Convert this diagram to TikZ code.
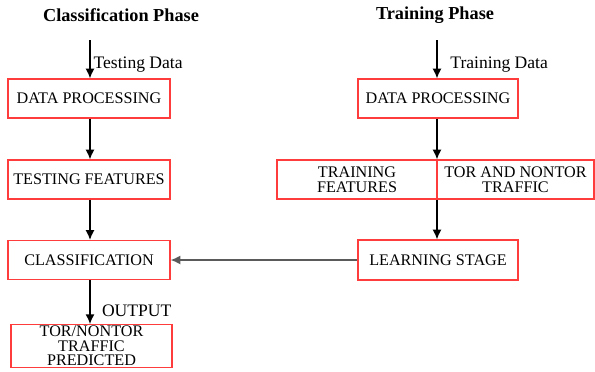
\documentclass[tikz,border=0pt]{standalone}
\usepackage{fontspec}
\setmainfont{Liberation Serif}
\usetikzlibrary{arrows.meta}
\usetikzlibrary{positioning}
\usetikzlibrary{calc}
\definecolor{boxred}{RGB}{255,60,60}
\definecolor{linegray}{RGB}{90,90,90}

\begin{document}
\begin{tikzpicture}[
        x=0.025cm, y=-0.025cm,
        every node/.style={font=\fontsize{11.5}{10.3}\selectfont},
        stage/.style={rectangle,draw=boxred,line width=0.8pt,align=center,
                      minimum width=4.05cm,minimum height=0.975cm,inner sep=1pt},
        phase/.style={font=\fontsize{13}{15}\selectfont\bfseries},
        flowlabel/.style={font=\fontsize{12.5}{14}\selectfont,anchor=west,inner sep=1pt},
        arr/.style={-{Latex[length=7pt,width=6.5pt]},line width=1.1pt,black}
      ]
      \useasboundingbox (0,0) rectangle (595,371);
      % classification phase
      \node[phase] (ctitle) at (121,15) {Classification Phase};
      \coordinate (cin) at (90,40);
      \node[stage] (cdp)  at (89,98.5)  {DATA PROCESSING};
      \node[stage] (ctf)  at (89,179.5) {TESTING FEATURES};
      \node[stage] (ccls) at (89,260)   {CLASSIFICATION};
      \node[stage,minimum width=4.025cm,minimum height=1.05cm] (cout) at (91.5,346)
           {TOR/NONTOR\\TRAFFIC\\PREDICTED};
      % training phase
      \node[phase] (ttitle) at (435,15) {Training Phase};
      \coordinate (tin) at (437,40);
      \node[stage,minimum width=4cm] (tdp) at (438,98.5) {DATA PROCESSING};
      \node[stage,minimum width=4cm] (tfeat) at (357,179.5) {TRAINING\\FEATURES};
      \node[stage,minimum width=3.925cm] (ttraffic) at (515.5,179.5) {TOR AND NONTOR\\TRAFFIC};
      \node[stage,minimum width=4cm,minimum height=1cm] (tls) at (438,260) {LEARNING STAGE};

      \draw[arr] (cin) -- (cin |- cdp.north)
           node[flowlabel,pos=0.65,xshift=1pt] {Testing Data};
      \draw[arr] (cdp.south -| cin) -- (cin |- ctf.north);
      \draw[arr] (ctf.south -| cin) -- (cin |- ccls.north);
      \draw[arr] (ccls.south -| cin) -- (cin |- cout.north)
           node[flowlabel,pos=0.7,xshift=7pt] {OUTPUT};
      \draw[arr] (tin) -- (tin |- tdp.north)
           node[flowlabel,pos=0.65,xshift=8pt] {Training Data};
      \draw[arr] (tdp.south -| tin) -- (tin |- tfeat.north);
      \draw[arr] (tin |- tfeat.south) -- (tin |- tls.north);
      \draw[arr,linegray] (tls.west) -- (ccls.east);
    \end{tikzpicture}
\end{document}
